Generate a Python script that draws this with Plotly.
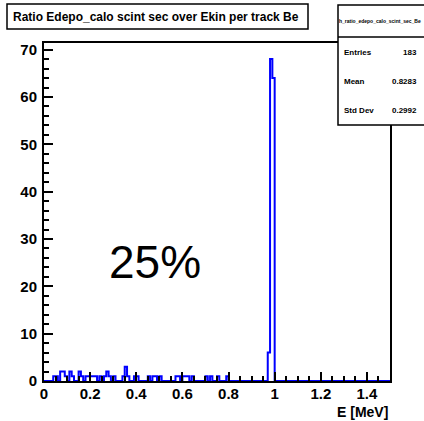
import plotly.graph_objects as go

# ---- data ----
bin_width = 0.01
x_min, x_max = 0.0, 1.5
# lower bin edges (in units of bin index * 0.01) and counts of non-empty bins
bin_index = [4, 5, 7, 8, 9, 11, 12, 15, 16, 18, 19, 20, 21, 22, 24, 26, 27, 28, 30,
             34, 35, 36, 39, 40, 45, 47, 48, 50, 57, 58, 60, 61, 62, 64, 70, 72, 75, 79,
             97, 98, 99]
bin_count = [1, 1, 2, 2, 1, 2, 1, 2, 1, 1, 1, 1, 1, 1, 1, 1, 2, 1, 1,
             1, 3, 1, 1, 1, 1, 1, 1, 1, 1, 1, 1, 1, 1, 1, 1, 1, 1, 1,
             6, 68, 64]

title_text = "Ratio Edepo_calo scint sec over Ekin per track Be"
hist_name = "h_ratio_edepo_calo_scint_sec_Be"
stats_labels = ["Entries", "Mean", "Std Dev"]
stats_values = ["183", "0.8283", "0.2992"]
x_title = "E [MeV]"
annotation_text = "25%"
x_ticks = [0, 0.2, 0.4, 0.6, 0.8, 1.0, 1.2, 1.4]
x_ticklabels = ["0", "0.2", "0.4", "0.6", "0.8", "1", "1.2", "1.4"]
y_ticks = [0, 10, 20, 30, 40, 50, 60, 70]

# ---- build full histogram ----
nbins = int(round((x_max - x_min) / bin_width))
counts = [0] * nbins
for i, c in zip(bin_index, bin_count):
    counts[i] = c
edges = [x_min + i * bin_width for i in range(nbins + 1)]
xs = [edges[0]] + edges
ys = [0] + counts + [0]

W, H = 424, 421
L, R, T, B = 44, 34, 43, 40
pw, ph = W - L - R, H - T - B

def px(xp):
    return (xp - L) / pw

def py(yp):
    return (H - B - yp) / ph

fig = go.Figure()
fig.add_trace(go.Scatter(x=xs, y=ys, mode="lines", line=dict(color="#0000ff", width=2, shape="hv"),
                         hoverinfo="skip", showlegend=False))

axis_font = dict(family="Arial", size=15, color="black")
fig.update_layout(
    width=W, height=H, margin=dict(l=L, r=R, t=T, b=B),
    paper_bgcolor="white", plot_bgcolor="white",
    showlegend=False,
    xaxis=dict(range=[x_min, x_max], showgrid=False, zeroline=False, showline=True, linecolor="black",
               linewidth=2, mirror=True, ticks="inside", ticklen=9, tickwidth=1.5, tickcolor="black",
               tickfont=axis_font, ticklabelstandoff=-2,
               tickvals=x_ticks,
               ticktext=["<b>%s</b>" % t for t in x_ticklabels],
               minor=dict(ticks="inside", ticklen=5, tickwidth=1.5, tickcolor="black", dtick=0.05, tick0=0)),
    yaxis=dict(range=[0, 71.4], showgrid=False, zeroline=False, showline=True, linecolor="black",
               linewidth=2, mirror=True, ticks="inside", ticklen=9, tickwidth=1.5, tickcolor="black",
               tickfont=axis_font, ticklabelstandoff=2,
               tickvals=y_ticks,
               ticktext=["<b>%d</b>" % v for v in y_ticks],
               minor=dict(ticks="inside", ticklen=5, tickwidth=1.5, tickcolor="black", dtick=2, tick0=0)),
)

shapes = []
# title box
shapes.append(dict(type="rect", xref="paper", yref="paper", x0=px(7), x1=px(308), y0=py(29), y1=py(4),
                   line=dict(color="black", width=1.5), fillcolor="white", layer="above"))
# stats box
shapes.append(dict(type="rect", xref="paper", yref="paper", x0=px(338), x1=px(425), y0=py(125), y1=py(5),
                   line=dict(color="black", width=1.5), fillcolor="white", layer="above"))
shapes.append(dict(type="line", xref="paper", yref="paper", x0=px(338), x1=px(425), y0=py(37), y1=py(37),
                   line=dict(color="black", width=1.5), layer="above"))
fig.update_layout(shapes=shapes)

ann = []
ann.append(dict(xref="paper", yref="paper", x=px(11), y=py(17), xanchor="left", yanchor="middle",
                text="<b>%s</b>" % title_text, showarrow=False,
                font=dict(family="Arial", size=12, color="black")))
ann.append(dict(xref="paper", yref="paper", x=px(380), y=py(21), xanchor="center", yanchor="middle",
                text="<b>%s</b>" % hist_name, showarrow=False,
                font=dict(family="Arial", size=5, color="black")))
for k, (lab, val) in enumerate(zip(stats_labels, stats_values)):
    yy = 52 + k * 29
    ann.append(dict(xref="paper", yref="paper", x=px(342), y=py(yy), xanchor="left", yanchor="middle",
                    text="<b>%s</b>" % lab, showarrow=False,
                    font=dict(family="Arial", size=8, color="black")))
    ann.append(dict(xref="paper", yref="paper", x=px(419), y=py(yy), xanchor="right", yanchor="middle",
                    text="<b>%s</b>" % val, showarrow=False,
                    font=dict(family="Arial", size=8, color="black")))
ann.append(dict(xref="paper", yref="paper", x=px(390), y=py(412), xanchor="right", yanchor="middle",
                text="<b>%s</b>" % x_title, showarrow=False,
                font=dict(family="Arial", size=14, color="black")))
ann.append(dict(xref="paper", yref="paper", x=px(155), y=py(262), xanchor="center", yanchor="middle",
                text=annotation_text, showarrow=False,
                font=dict(family="Arial", size=46, color="black")))
fig.update_layout(annotations=ann)

fig.write_html("out.html")
